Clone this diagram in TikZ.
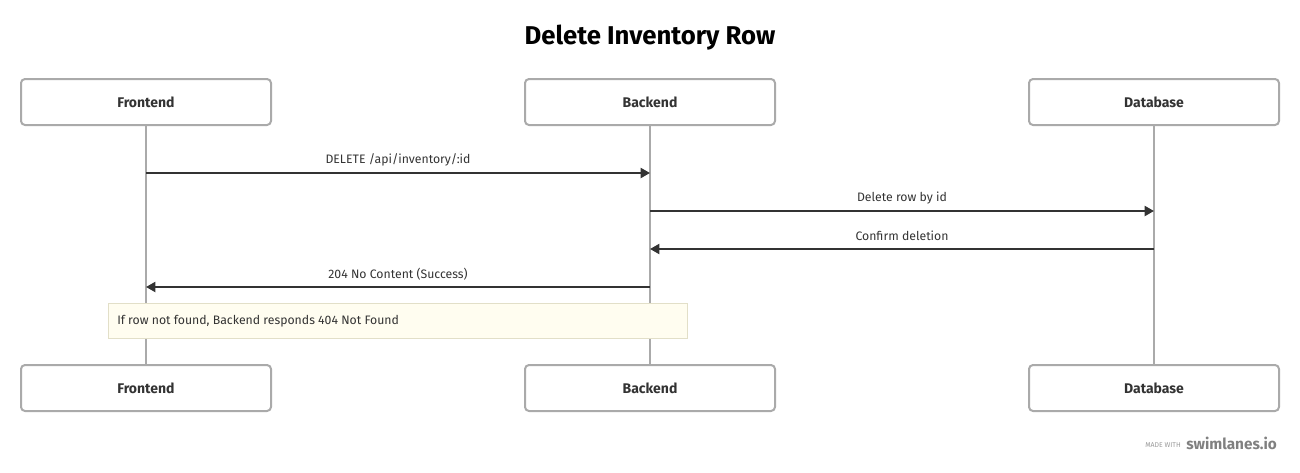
\documentclass[tikz,border=0pt]{standalone}
\usepackage{fontspec}
\setmainfont{Fira Sans}
\usetikzlibrary{arrows.meta}
\definecolor{boxline}{HTML}{AAAAAA}
\definecolor{txt}{HTML}{333333}
\definecolor{notefill}{HTML}{FFFDF0}
\definecolor{noteline}{HTML}{E2DFC8}
\tikzset{
  actor/.style={draw=boxline, line width=1.5pt, rounded corners=3pt, fill=white,
    minimum width=187.5pt, minimum height=34.5pt, inner sep=0pt,
    font=\fontsize{10.5}{12}\selectfont\bfseries, text=txt},
  life/.style={draw=boxline, line width=1.5pt},
  msg/.style={draw=txt, line width=1.5pt, -{Triangle[length=7pt,width=7.5pt]}},
  lbl/.style={font=\fontsize{9.2}{11}\selectfont, text=txt, inner sep=0pt},
}
\begin{document}
\begin{tikzpicture}[x=0.75pt,y=-0.75pt]
\useasboundingbox (0,0) rectangle (1300,472);
\node[font=\fontsize{19.3}{23}\selectfont\bfseries, text=black] (title) at (650,38) {Delete Inventory Row};
% lifelines
\coordinate (fl) at (146,125); \coordinate (fl2) at (146,365);
\coordinate (bl) at (650,125); \coordinate (bl2) at (650,365);
\coordinate (dl) at (1154,125); \coordinate (dl2) at (1154,365);
\draw[life] (fl) -- (fl2);
\draw[life] (bl) -- (bl2);
\draw[life] (dl) -- (dl2);
\node[actor] (f1) at (146,102) {Frontend};
\node[actor] (b1) at (650,102) {Backend};
\node[actor] (d1) at (1154,102) {Database};
\node[actor] (f2) at (146,388) {Frontend};
\node[actor] (b2) at (650,388) {Backend};
\node[actor] (d2) at (1154,388) {Database};
% messages
\coordinate (m1a) at (146,173); \coordinate (m1b) at (650,173);
\coordinate (m2a) at (650,211); \coordinate (m2b) at (1154,211);
\coordinate (m3a) at (1154,249); \coordinate (m3b) at (650,249);
\coordinate (m4a) at (650,287); \coordinate (m4b) at (146,287);
\draw[msg] (m1a) -- (m1b);
\draw[msg] (m2a) -- (m2b);
\draw[msg] (m3a) -- (m3b);
\draw[msg] (m4a) -- (m4b);
\node[lbl] (l1) at (398,160) {DELETE /api/inventory/:id};
\node[lbl] (l2) at (902,198) {Delete row by id};
\node[lbl] (l3) at (902,236) {Confirm deletion};
\node[lbl] (l4) at (398,274) {204 No Content (Success)};
% note
\node[draw=noteline, fill=notefill, line width=0.75pt, minimum width=434.25pt, minimum height=26.25pt, inner sep=0pt] (note) at (397.5,320.5) {};
\node[lbl, anchor=west] (notetext) at (117,321) {If row not found, Backend responds 404 Not Found};
% footer
\node[font=\fontsize{5.2}{6}\selectfont, text=gray!80, anchor=east, inner sep=0pt] (made) at (1181,445) {MADE WITH};
\node[font=\fontsize{11.5}{14}\selectfont\bfseries, text=gray, anchor=west, inner sep=0pt] (brand) at (1186,443) {swimlanes.io};
\end{tikzpicture}
\end{document}
